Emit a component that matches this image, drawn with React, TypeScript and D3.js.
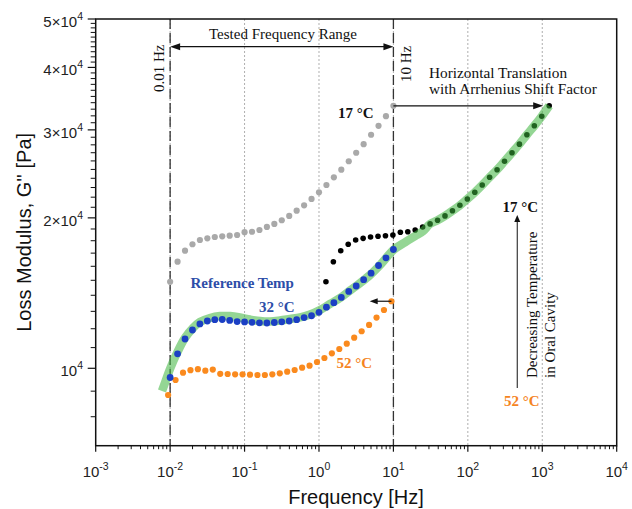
import React from 'react';
import * as d3 from 'd3';

const W = 632;
const H = 509;
const PL = 95.7, PR = 616.7, PT = 19, PB = 445.7;

// measured frequencies (Hz), 10 points per decade
const freqTested = [0.01, 0.01259, 0.01585, 0.01995, 0.02512, 0.03162, 0.03981, 0.05012, 0.0631, 0.07943,
  0.1, 0.1259, 0.1585, 0.1995, 0.2512, 0.3162, 0.3981, 0.5012, 0.631, 0.7943,
  1, 1.259, 1.585, 1.995, 2.512, 3.162, 3.981, 5.012, 6.31, 7.943, 10];
// 17 °C loss modulus (Pa)
const g17 = [14900, 16340, 17190, 17710, 18060, 18200, 18310, 18370, 18420, 18480,
  18720, 18760, 18910, 19180, 19450, 19780, 20180, 20670, 21190, 21820,
  22500, 23270, 24110, 24970, 25960, 27000, 28090, 29330, 30570, 31950, 33520];
// 17 °C after Arrhenius horizontal shift
const freq17Shifted = [1.24, 1.56, 1.96, 2.47, 3.11, 3.92, 4.93, 6.21, 7.82, 9.84,
  12.4, 15.6, 19.6, 24.7, 31.1, 39.2, 49.3, 62.1, 78.2, 98.4,
  124, 156, 196, 247, 311, 392, 493, 621, 782, 984, 1239];
// 32 °C (reference)
const g32 = [9585, 10690, 11445, 11930, 12270, 12435, 12510, 12520, 12470, 12400,
  12380, 12360, 12330, 12320, 12350, 12390, 12435, 12510, 12630, 12740,
  12940, 13250, 13530, 13860, 14250, 14610, 15040, 15500, 16060, 16640, 17290];
// 52 °C
const freq52 = [0.0094, 0.01183, 0.0149, 0.01875, 0.02361, 0.02972, 0.03742, 0.04711, 0.05931, 0.07467,
  0.094, 0.1183, 0.149, 0.1875, 0.2361, 0.2972, 0.3742, 0.4711, 0.5931, 0.7467,
  0.94, 1.183, 1.49, 1.875, 2.361, 2.972, 3.742, 4.711, 5.931, 7.467, 9.4];
const g52 = [8843, 9475, 9799, 9913, 9959, 9890, 9940, 9750, 9741, 9727,
  9727, 9710, 9696, 9696, 9727, 9772, 9844, 9922, 10028, 10120,
  10295, 10486, 10715, 10930, 11200, 11514, 11860, 12210, 12630, 13080, 13620];
// master curve
const masterFreq = [0.00778, 0.0088, 0.00996, 0.01237, 0.01584, 0.02029, 0.02519, 0.03434, 0.04677, 0.06374,
  0.08684, 0.1183, 0.1612, 0.2197, 0.2993, 0.4078, 0.5557, 0.7572, 1.032, 1.406,
  1.916, 2.61, 3.556, 4.846, 6.602, 10.18, 14.31, 19.5, 24.97, 31.1,
  39.2, 49.3, 62.1, 78.2, 98.4, 124, 156, 196, 247, 311, 392, 493, 621, 782, 984, 1239];
const masterG = [9007, 9475, 9968, 10730, 11500, 12040, 12380, 12610, 12720, 12720,
  12640, 12520, 12430, 12400, 12460, 12550, 12640, 12810, 13080, 13450,
  13820, 14310, 14810, 15370, 16090, 17290, 17870, 18380, 18810, 19450,
  19780, 20180, 20670, 21190, 21820, 22500, 23270, 24110, 24970, 25960, 27000, 28090, 29330, 30570, 31950, 33520];

const xTickExps = [-3, -2, -1, 0, 1, 2, 3, 4];
const yMajor = [10000, 20000, 30000, 40000, 50000];
const yMajorBase = ['10', '2×10', '3×10', '4×10', '5×10'];
const gridDecades = [-2, -1, 0, 1, 2, 3];

const SANS = "'Liberation Sans', Arial, sans-serif";
const SERIF = "'Liberation Serif', 'Times New Roman', serif";

const C_GRAY = '#a9a9a9';
const C_BLUE = '#1b3fc4';
const C_BLUE_T = '#2d4ea8';
const C_ORANGE = '#fa8a1e';
const C_ORANGE_T = '#f5841f';
const C_GREEN = '#3cb43c';

function Arrow({ x1, y1, x2, y2, both = false, len = 10, wid = 3.5, sw = 1.2 }: any) {
  const a = Math.atan2(y2 - y1, x2 - x1);
  const head = (hx: number, hy: number, ang: number) => {
    const bx = hx - len * Math.cos(ang), by = hy - len * Math.sin(ang);
    const px = -Math.sin(ang) * wid, py = Math.cos(ang) * wid;
    return `${hx},${hy} ${bx + px},${by + py} ${bx - px},${by - py}`;
  };
  const sx = both ? x1 + (len - 1) * Math.cos(a) : x1;
  const sy = both ? y1 + (len - 1) * Math.sin(a) : y1;
  const ex = x2 - (len - 1) * Math.cos(a), ey = y2 - (len - 1) * Math.sin(a);
  return (
    <g>
      <line x1={sx} y1={sy} x2={ex} y2={ey} stroke="#111" strokeWidth={sw} />
      <polygon points={head(x2, y2, a)} fill="#111" />
      {both && <polygon points={head(x1, y1, a + Math.PI)} fill="#111" />}
    </g>
  );
}

export default function App() {
  const x = d3.scaleLog().domain([1e-3, 1e4]).range([PL, PR]);
  const y = d3.scaleLog().domain([7000, 50000]).range([PB, PT]);

  const xMinor: number[] = [];
  for (let e = -3; e < 4; e++) for (let m = 2; m <= 9; m++) xMinor.push(m * Math.pow(10, e));
  const yMinor: number[] = [];
  for (let v = 8000; v < 50000; v += 1000) if (v % 10000 !== 0) yMinor.push(v);

  const master = d3.line<number>()
    .x((d, i) => x(masterFreq[i]))
    .y((d) => y(d))
    .curve(d3.curveCatmullRom.alpha(0.5))(masterG);

  const x001 = x(0.01), x10 = x(10);
  const yTop17 = y(g17[g17.length - 1]);
  const xEnd17 = x(freq17Shifted[freq17Shifted.length - 1]);
  const yEnd52 = y(g52[g52.length - 1]);
  const xArr = x(461);

  return (
    <svg width={W} height={H} style={{ position: 'absolute', left: 0, top: 0, background: '#fff' }}>
      <rect x={0} y={0} width={W} height={H} fill="#fff" />
      {/* grid */}
      {gridDecades.map((e) => (
        <line key={e} x1={x(Math.pow(10, e))} x2={x(Math.pow(10, e))} y1={PT} y2={PB}
          stroke="#9a9a9a" strokeWidth={0.8} strokeDasharray="2,2" />
      ))}
      {[x001, x10].map((xx, i) => (
        <line key={i} x1={xx} x2={xx} y1={PT} y2={PB} stroke="#333" strokeWidth={1.3} strokeDasharray="10,4" />
      ))}

      {/* data */}
      <g>
        {freqTested.map((f, i) => (
          <circle key={'g' + i} cx={x(f)} cy={y(g17[i])} r={3.1} fill={C_GRAY} />
        ))}
        {freq17Shifted.map((f, i) => (
          <circle key={'k' + i} cx={x(f)} cy={y(g17[i])} r={2.8} fill="#000" />
        ))}
        <path d={master || ''} fill="none" stroke={C_GREEN} strokeOpacity={0.55} strokeWidth={8.5} strokeLinecap="butt" />
        {freq52.map((f, i) => (
          <circle key={'o' + i} cx={x(f)} cy={y(g52[i])} r={3.1} fill={C_ORANGE} />
        ))}
        {freqTested.map((f, i) => (
          <circle key={'b' + i} cx={x(f)} cy={y(g32[i])} r={3.4} fill={C_BLUE} />
        ))}
      </g>

      {/* frame */}
      <rect x={PL} y={PT} width={PR - PL} height={PB - PT} fill="none" stroke="#111" strokeWidth={1.5} />

      {/* x ticks */}
      {xTickExps.map((e) => {
        const xx = x(Math.pow(10, e));
        return (
          <g key={e}>
            <line x1={xx} x2={xx} y1={PB} y2={PB + 6} stroke="#111" strokeWidth={1.2} />
            <text x={xx} y={476.5} textAnchor="middle" fontFamily={SANS} fontSize={15} fill="#222">
              10<tspan fontSize={10.5} dy={-7}>{e}</tspan>
            </text>
          </g>
        );
      })}
      {xMinor.map((v, i) => (
        <line key={i} x1={x(v)} x2={x(v)} y1={PB} y2={PB + 3.5} stroke="#111" strokeWidth={1} />
      ))}
      {/* y ticks */}
      {yMajor.map((v, i) => (
        <g key={v}>
          <line x1={PL - 8} x2={PL} y1={y(v)} y2={y(v)} stroke="#111" strokeWidth={1.2} />
          <text x={83} y={y(v) + 8} textAnchor="end" fontFamily={SANS} fontSize={15} fill="#222">
            {yMajorBase[i]}<tspan fontSize={10.5} dy={-7}>4</tspan>
          </text>
        </g>
      ))}
      {yMinor.map((v) => (
        <line key={v} x1={PL - 5} x2={PL} y1={y(v)} y2={y(v)} stroke="#111" strokeWidth={1} />
      ))}

      {/* axis titles */}
      <text x={356} y={504} textAnchor="middle" fontFamily={SANS} fontSize={20} fill="#111">Frequency [Hz]</text>
      <text transform={`translate(31,${(PT + PB) / 2}) rotate(-90)`} textAnchor="middle" fontFamily={SANS} fontSize={20} fill="#111">
        Loss Modulus, G'' [Pa]
      </text>

      {/* annotations */}
      <text x={283} y={39} textAnchor="middle" fontFamily={SERIF} fontSize={15} fill="#111">Tested Frequency Range</text>
      <Arrow x1={x001} y1={46.7} x2={x10} y2={46.7} both={true} />
      <text transform={`translate(164,92) rotate(-90)`} fontFamily={SERIF} fontSize={15} fill="#111">0.01 Hz</text>
      <text transform={`translate(411,82) rotate(-90)`} fontFamily={SERIF} fontSize={15} fill="#111">10 Hz</text>
      <text x={429} y={78} fontFamily={SERIF} fontSize={15.3} fill="#111">Horizontal Translation</text>
      <text x={429} y={94} fontFamily={SERIF} fontSize={15.3} fill="#111">with Arrhenius Shift Factor</text>
      <Arrow x1={x10} y1={yTop17} x2={xEnd17 - 6} y2={yTop17} />
      <text x={338} y={118} fontFamily={SERIF} fontSize={15} fontWeight="bold" fill="#111">17 °C</text>
      <text x={190.5} y={288} fontFamily={SERIF} fontSize={15} fontWeight="bold" fill={C_BLUE_T}>Reference Temp</text>
      <text x={259} y={311.5} fontFamily={SERIF} fontSize={15} fontWeight="bold" fill={C_BLUE_T}>32 °C</text>
      <text x={336.5} y={368} fontFamily={SERIF} fontSize={15} fontWeight="bold" fill={C_ORANGE_T}>52 °C</text>
      <Arrow x1={x(freq52[freq52.length - 1])} y1={yEnd52} x2={x(4.8)} y2={yEnd52} len={8} wid={3} />
      <text x={502.5} y={211.5} fontFamily={SERIF} fontSize={15} fontWeight="bold" fill="#111">17 °C</text>
      <text x={504} y={406} fontFamily={SERIF} fontSize={15} fontWeight="bold" fill={C_ORANGE_T}>52 °C</text>
      <Arrow x1={xArr} y1={388} x2={xArr} y2={215} len={7} wid={3} sw={1} />
      <text transform={`translate(537,378) rotate(-90)`} fontFamily={SERIF} fontSize={15} fill="#111">Decreasing Temperature</text>
      <text transform={`translate(555,378) rotate(-90)`} fontFamily={SERIF} fontSize={15} fill="#111">in Oral Cavity</text>
    </svg>
  );
}
